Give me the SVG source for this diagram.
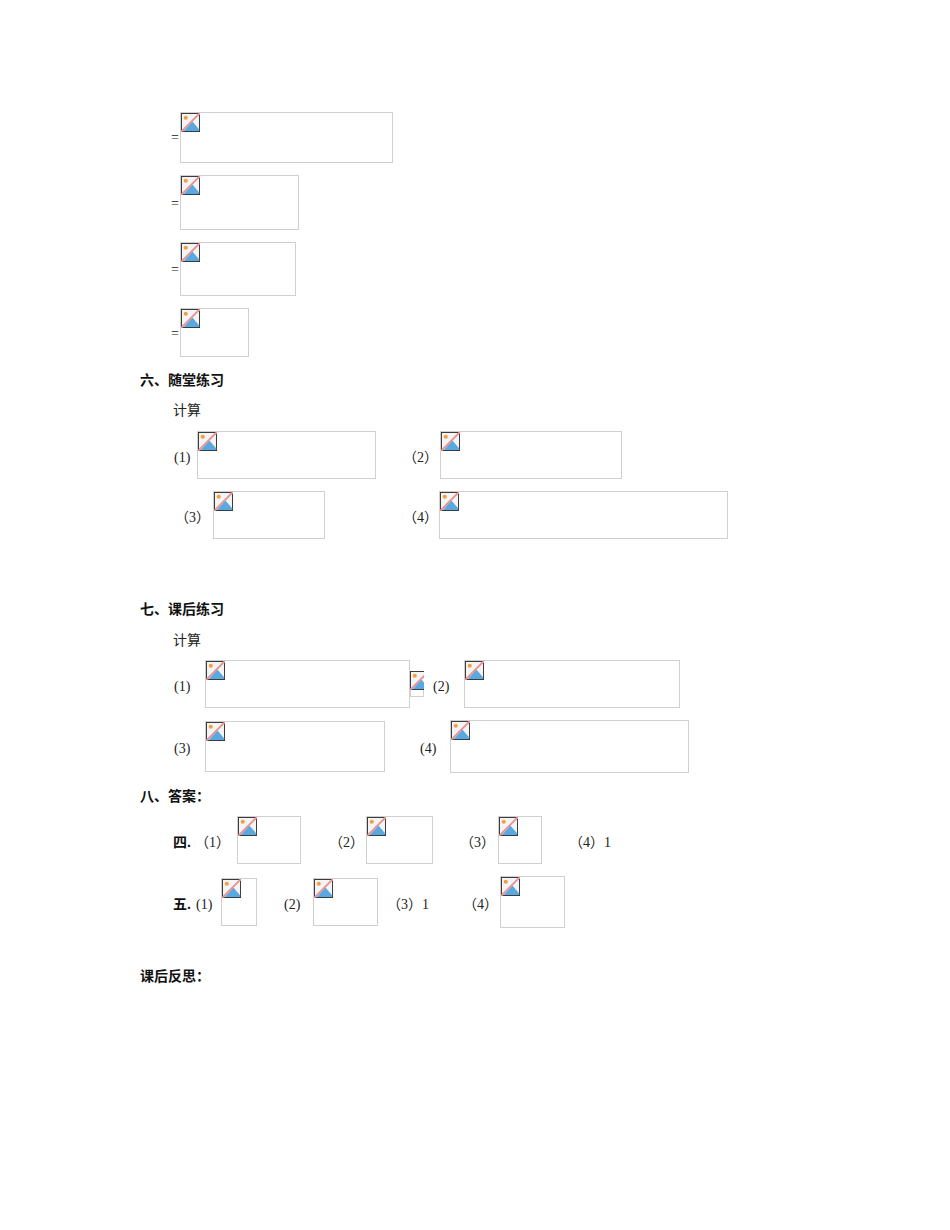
<svg xmlns="http://www.w3.org/2000/svg" width="950" height="1230" viewBox="0 0 950 1230">
<style>
.b{fill:#fff;stroke:#d0d0d0;stroke-width:1}
.t{font-family:"Liberation Serif","Noto Sans CJK SC",serif;font-size:14px;fill:#222}
.h{font-family:"Liberation Sans","Noto Sans CJK SC",sans-serif;font-size:14px;font-weight:bold;fill:#111}
</style>
<defs>
<symbol id="ic" viewBox="0 0 20 20">
<rect x="0.5" y="0.5" width="19" height="19" fill="#f4f4f4" stroke="#333"/>
<circle cx="5" cy="5" r="2.2" fill="#f0a040"/>
<polygon points="3,19 12,9 19,17 19,19" fill="#5aa8e0"/>
<line x1="0" y1="20" x2="20" y2="0" stroke="#e89090" stroke-width="2"/>
</symbol>
<clipPath id="cp"><rect x="410" y="671" width="14" height="26"/></clipPath>
</defs>
<g id="nodes">
<g id="e1"><text class="t" x="171" y="142">=</text><rect class="b" x="180.5" y="112.5" width="212" height="50"/><use href="#ic" x="181" y="113" width="19" height="19"/></g>
<g id="e2"><text class="t" x="171" y="208">=</text><rect class="b" x="180.5" y="175.5" width="118" height="54"/><use href="#ic" x="181" y="176" width="19" height="19"/></g>
<g id="e3"><text class="t" x="171" y="274">=</text><rect class="b" x="180.5" y="242.5" width="115" height="53"/><use href="#ic" x="181" y="243" width="19" height="19"/></g>
<g id="e4"><text class="t" x="171" y="338">=</text><rect class="b" x="180.5" y="308.5" width="68" height="48"/><use href="#ic" x="181" y="309" width="19" height="19"/></g>
<text class="h" x="140" y="385">六、随堂练习</text>
<text class="t" x="173" y="415">计算</text>
<g id="s1"><text class="t" x="174" y="462">(1)</text><rect class="b" x="197.5" y="431.5" width="178" height="47"/><use href="#ic" x="198" y="432" width="19" height="19"/></g>
<g id="s2"><text class="t" x="403" y="462">（2）</text><rect class="b" x="440.5" y="431.5" width="181" height="47"/><use href="#ic" x="441" y="432" width="19" height="19"/></g>
<g id="s3"><text class="t" x="175" y="522">（3）</text><rect class="b" x="213.5" y="491.5" width="111" height="47"/><use href="#ic" x="214" y="492" width="19" height="19"/></g>
<g id="s4"><text class="t" x="403" y="522">（4）</text><rect class="b" x="439.5" y="491.5" width="288" height="47"/><use href="#ic" x="440" y="492" width="19" height="19"/></g>
<text class="h" x="140" y="614">七、课后练习</text>
<text class="t" x="173" y="645">计算</text>
<g id="k1"><text class="t" x="174" y="691">(1)</text><rect class="b" x="205.5" y="660.5" width="204" height="47"/><use href="#ic" x="206" y="661" width="19" height="19"/></g>
<g id="k1b"><rect class="b" x="410.5" y="671.5" width="13" height="25"/><g clip-path="url(#cp)"><use href="#ic" x="410" y="671" width="19" height="19"/></g></g>
<g id="k2"><text class="t" x="433" y="691">(2)</text><rect class="b" x="464.5" y="660.5" width="215" height="47"/><use href="#ic" x="465" y="661" width="19" height="19"/></g>
<g id="k3"><text class="t" x="174" y="753">(3)</text><rect class="b" x="205.5" y="721.5" width="179" height="50"/><use href="#ic" x="206" y="722" width="19" height="19"/></g>
<g id="k4"><text class="t" x="420" y="753">(4)</text><rect class="b" x="450.5" y="720.5" width="238" height="52"/><use href="#ic" x="451" y="721" width="19" height="19"/></g>
<text class="h" x="140" y="801">八、答案：</text>
<text class="h" x="173" y="847">四.</text>
<g id="a1"><text class="t" x="195" y="847">（1）</text><rect class="b" x="237.5" y="816.5" width="63" height="47"/><use href="#ic" x="238" y="817" width="19" height="19"/></g>
<g id="a2"><text class="t" x="329" y="847">（2）</text><rect class="b" x="366.5" y="816.5" width="66" height="47"/><use href="#ic" x="367" y="817" width="19" height="19"/></g>
<g id="a3"><text class="t" x="460" y="847">（3）</text><rect class="b" x="498.5" y="816.5" width="43" height="47"/><use href="#ic" x="499" y="817" width="19" height="19"/></g>
<g id="a4"><text class="t" x="569" y="847">（4）1</text></g>
<text class="h" x="173" y="909">五.</text>
<g id="b1"><text class="t" x="196" y="909">(1)</text><rect class="b" x="221.5" y="878.5" width="35" height="47"/><use href="#ic" x="222" y="879" width="19" height="19"/></g>
<g id="b2"><text class="t" x="284" y="909">(2)</text><rect class="b" x="313.5" y="878.5" width="64" height="47"/><use href="#ic" x="314" y="879" width="19" height="19"/></g>
<g id="b3"><text class="t" x="387" y="909">（3）1</text></g>
<g id="b4"><text class="t" x="463" y="909">（4）</text><rect class="b" x="500.5" y="876.5" width="64" height="51"/><use href="#ic" x="501" y="877" width="19" height="19"/></g>
<text class="h" x="140" y="981">课后反思：</text>
</g>
<g id="connectors"></g>
</svg>
